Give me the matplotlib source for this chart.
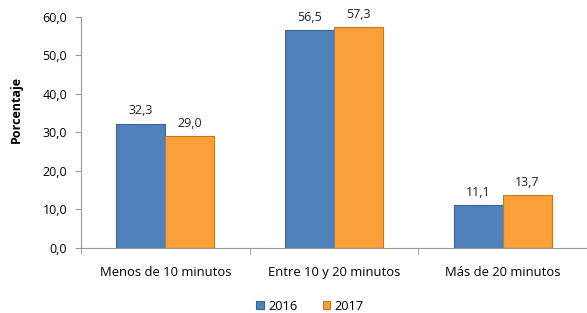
import numpy as np
import matplotlib.pyplot as plt

plt.rcParams['font.family'] = ['Open Sans', 'DejaVu Sans']

categorias = ['Menos de 10 minutos', 'Entre 10 y 20 minutos', 'Más de 20 minutos']
anios = ['2016', '2017']
v2016 = [32.3, 56.5, 11.1]
v2017 = [29.0, 57.3, 13.7]

azul = '#4F81BD'
naranja = '#F9A03A'

fig = plt.figure(figsize=(5.87, 3.13), dpi=100)
ax = fig.add_axes([0.138, 0.208, 0.862, 0.738])

x = np.arange(len(categorias))
w = 0.29
b1 = ax.bar(x - w/2, v2016, w, color=azul, edgecolor='#3A6494', linewidth=0.8, label=anios[0])
b2 = ax.bar(x + w/2, v2017, w, color=naranja, edgecolor='#C47A22', linewidth=0.8, label=anios[1])

for bars, vals in ((b1, v2016), (b2, v2017)):
    for r, v in zip(bars, vals):
        ax.text(r.get_x() + r.get_width()/2, v + 1.6, f'{v:.1f}'.replace('.', ','),
                ha='center', va='bottom', fontsize=9, color='#222222')

ax.set_xlim(-0.5, 2.5)
ax.set_ylim(0, 60)
ax.set_yticks(np.arange(0, 61, 10))
ax.set_yticklabels([f'{t:.1f}'.replace('.', ',') for t in np.arange(0, 61, 10)], fontsize=9)
ax.set_xticks(x)
ax.set_xticklabels(categorias, fontsize=9.4)
ax.set_xticks([-0.5, 0.5, 1.5, 2.5], minor=True)
ax.tick_params(axis='x', which='major', length=0, pad=13)
ax.tick_params(axis='x', which='minor', length=4, color='#999999')
ax.tick_params(axis='y', length=4, color='#999999', pad=6)

for s in ['top', 'right']:
    ax.spines[s].set_visible(False)
ax.spines['left'].set_color('#999999')
ax.spines['bottom'].set_color('#999999')

ax.set_ylabel('Porcentaje', fontsize=9, fontweight='bold')
ax.yaxis.set_label_coords(-0.114, 0.60)

fig.legend(loc='center', bbox_to_anchor=(0.528, 7/313), ncol=2, frameon=False,
           fontsize=9.2, handlelength=0.6, handleheight=0.6, handletextpad=0.3, columnspacing=2.0)

fig.savefig('out.png', dpi=100)
